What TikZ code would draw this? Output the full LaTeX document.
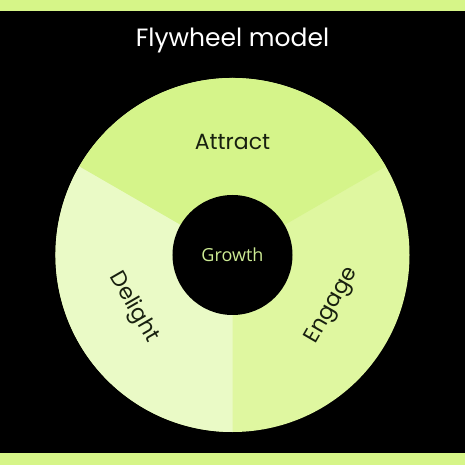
\documentclass[tikz,border=0pt]{standalone}
\usepackage{fontspec}
\setmainfont{Poppins}
\newfontfamily\growthfont{Open Sans}

\begin{document}
\begin{tikzpicture}[x=1pt,y=1pt,every node/.style={align=center,inner sep=0pt}]
  \definecolor{ink}{HTML}{18200F}
  \definecolor{lime}{HTML}{D6F588}
  \definecolor{attract}{HTML}{D5F48A}
  \definecolor{engage}{HTML}{DFF7A0}
  \definecolor{delight}{HTML}{EAFAC6}
  \definecolor{sprout}{HTML}{CDEB94}
  % Page: black ground with a lime band top and bottom.
  \fill[black] (-232.5,-210) rectangle (232.5,255);
  \useasboundingbox (-232.5,-210) rectangle (232.5,255);
  \fill[lime] (-232.5,244) rectangle (232.5,255);
  \fill[lime] (-232.5,-210) rectangle (232.5,-198);
  \node[font=\fontsize{25}{30}\selectfont,text=white,anchor=base] (title) at (0,208) {Flywheel model};
  % The three stages, each a third of the wheel (a base disc hides the seams).
  \fill[engage] (0,0) circle[radius=177pt];
  \fill[attract] (0,0) -- (30:177pt) arc[start angle=30,end angle=150,radius=177pt] -- cycle;
  \fill[delight] (0,0) -- (150:177pt) arc[start angle=150,end angle=270,radius=177pt] -- cycle;
  % Hub.
  \fill[black] (0,0) circle[radius=60pt];
  \node[font=\growthfont\fontsize{18}{22}\selectfont,text=sprout] (growth) at (0,0) {Growth};
  % Stage names, turned along the ring.
  \node[font=\fontsize{22}{26}\selectfont,text=ink] (attractlabel) at (90:113pt) {Attract};
  \node[font=\fontsize{22}{26}\selectfont,text=ink,rotate=-60] (delightlabel) at (208:112pt) {Delight};
  \node[font=\fontsize{22}{26}\selectfont,text=ink,rotate=60] (engagelabel) at (-27:112pt) {Engage};
\end{tikzpicture}
\end{document}
